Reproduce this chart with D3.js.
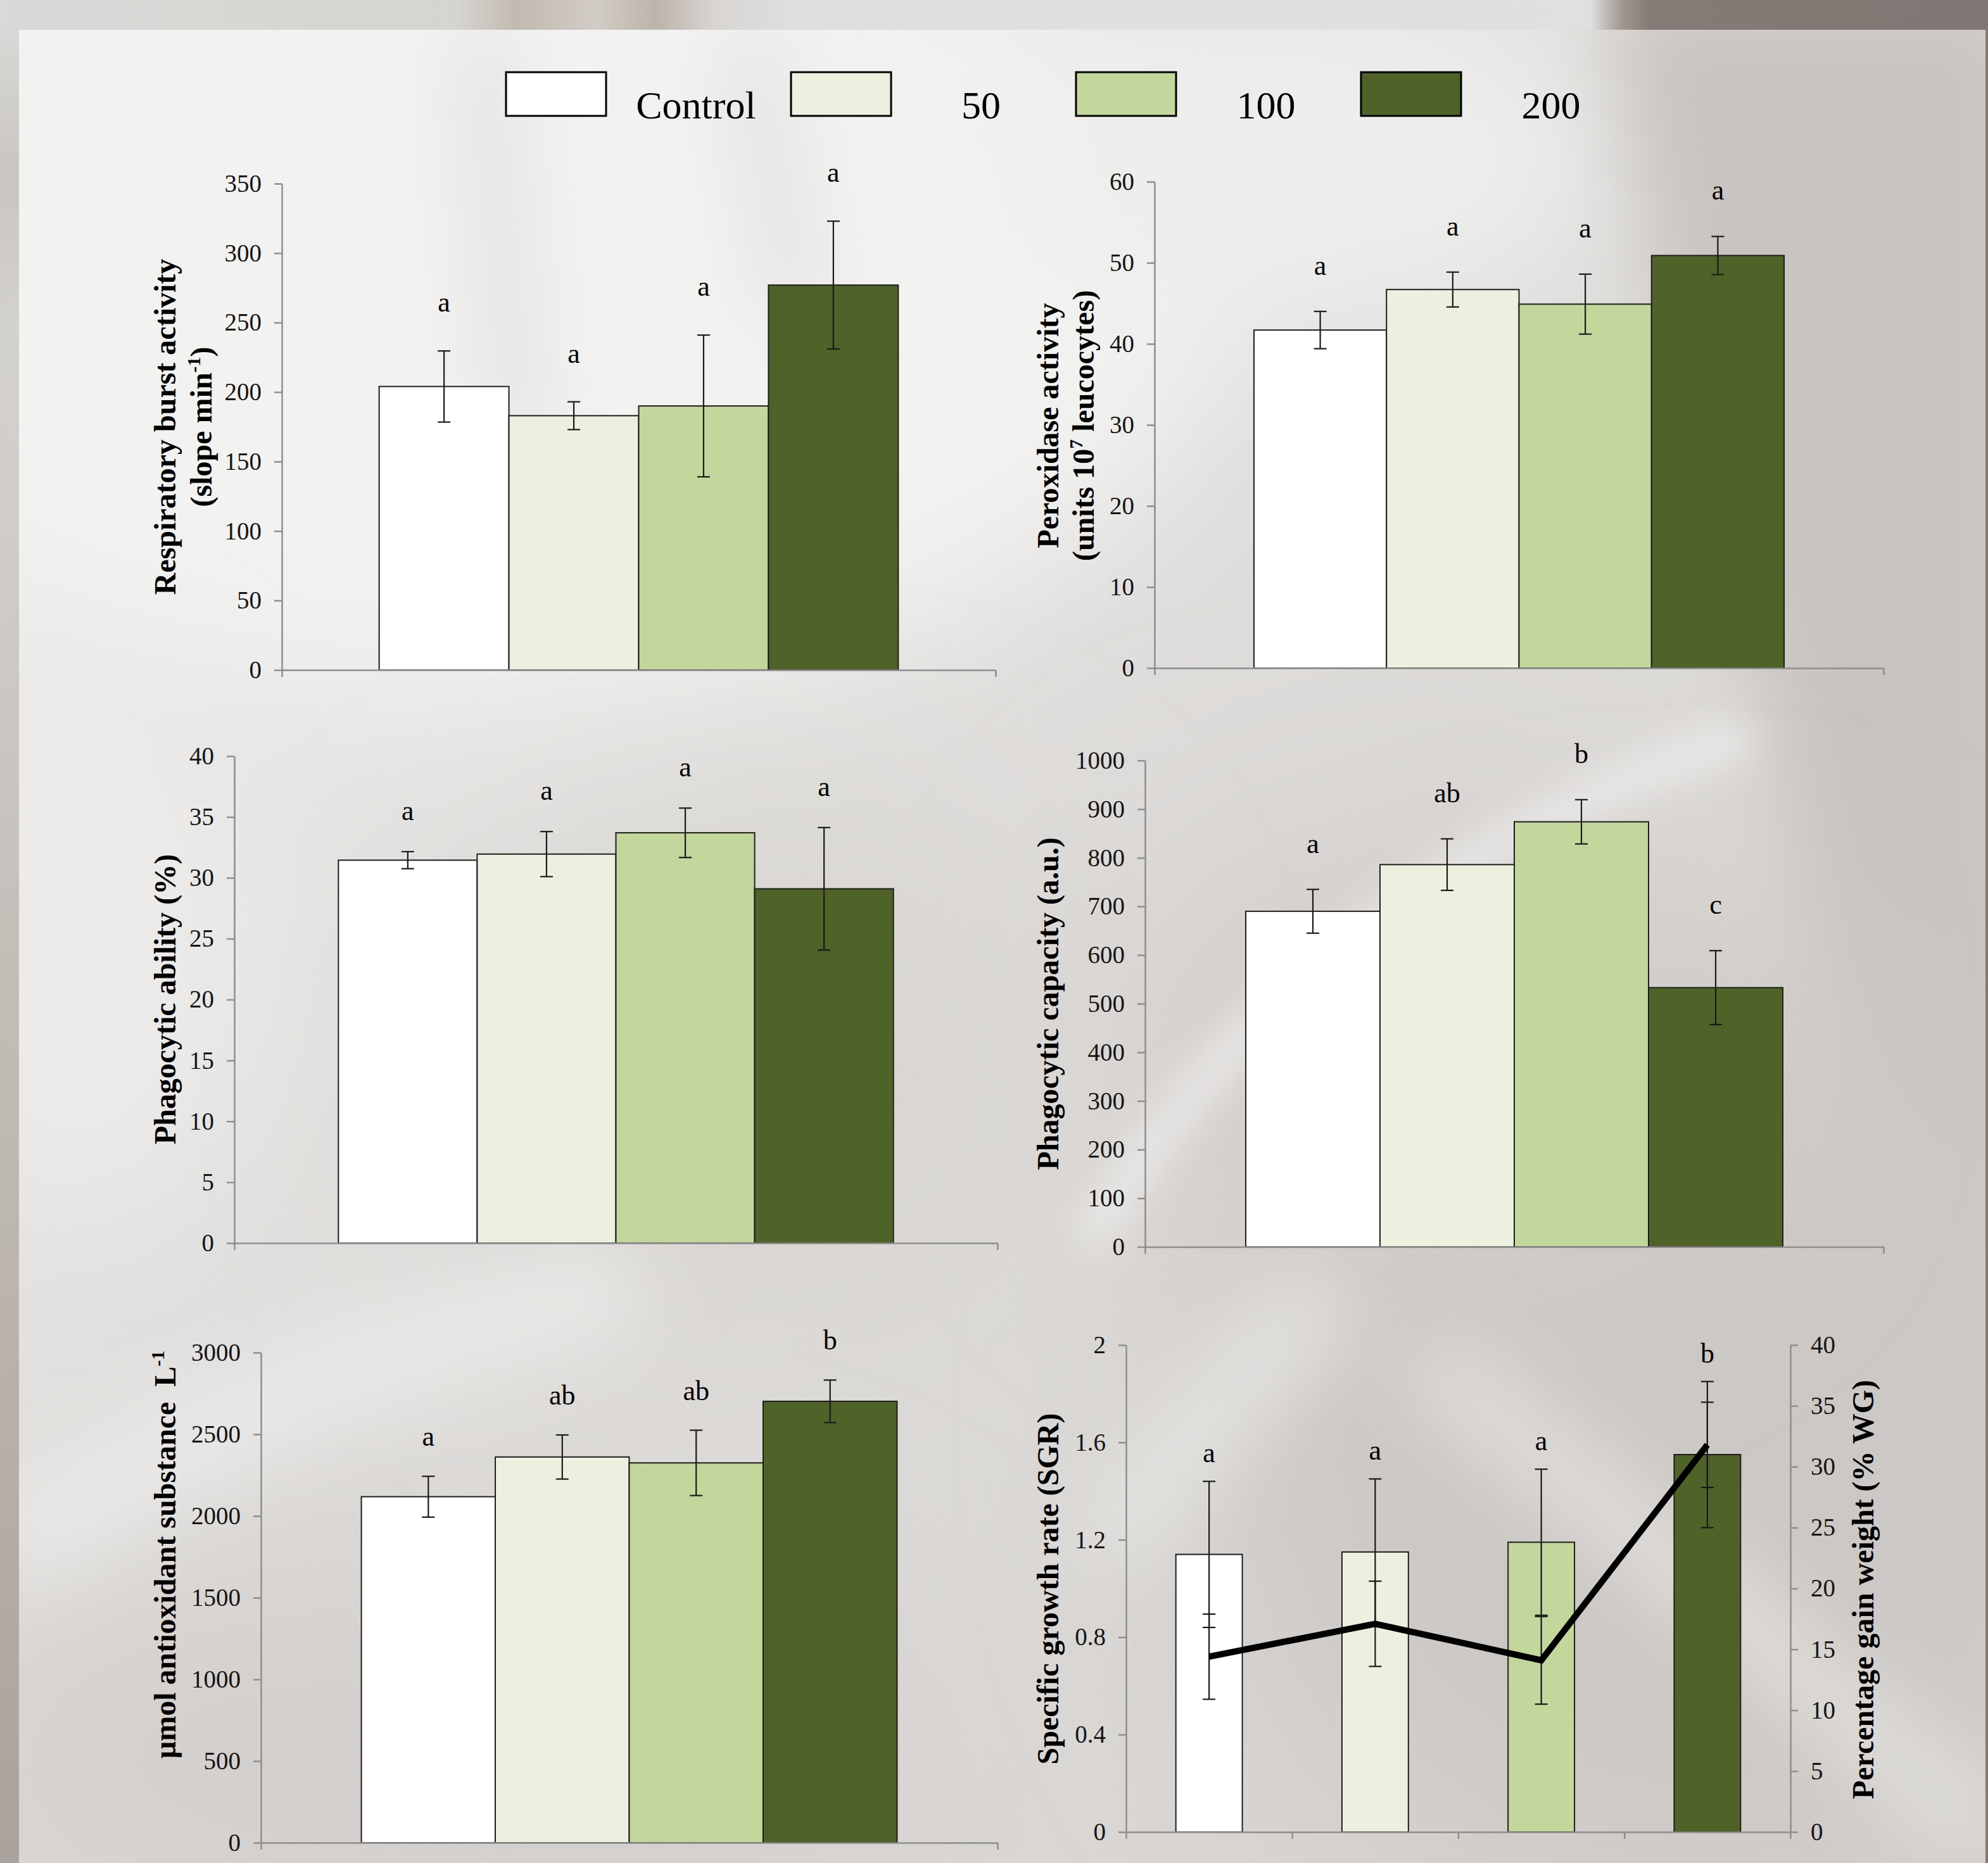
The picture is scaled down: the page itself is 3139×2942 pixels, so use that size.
<!DOCTYPE html>
<html>
<head>
<meta charset="utf-8">
<script src="https://cdn.jsdelivr.net/npm/d3@7"></script>
<style>
  html, body { margin: 0; padding: 0; background: #d9d9d7; }
  svg { display: block; }
  text { font-family: "Liberation Serif", "Times New Roman", Times, serif; }
</style>
</head>
<body>
<svg id="fig"></svg>
<script>
// ---- data ----------------------------------------------------------------
const groups = ["Control", "50", "100", "200"];
const groupColors = ["#ffffff", "#ebf1de", "#c3d69b", "#4f6228"];

// Respiratory burst activity (slope min-1)
const burstMean = [204, 183, 190, 277];
const burstErr = [25.6, 10, 51, 46];
const burstLetters = ["a", "a", "a", "a"];
const burstTicks = [0, 50, 100, 150, 200, 250, 300, 350];

// Peroxidase activity (units 10^7 leucocytes)
const peroxMean = [41.7, 46.7, 44.9, 50.9];
const peroxErr = [2.3, 2.15, 3.7, 2.35];
const peroxLetters = ["a", "a", "a", "a"];
const peroxTicks = [0, 10, 20, 30, 40, 50, 60];

// Phagocytic ability (%)
const abilityMean = [31.45, 31.95, 33.7, 29.1];
const abilityErr = [0.7, 1.85, 2.03, 5.03];
const abilityLetters = ["a", "a", "a", "a"];
const abilityTicks = [0, 5, 10, 15, 20, 25, 30, 35, 40];

// Phagocytic capacity (a.u.)
const capacityMean = [690, 786, 874, 533];
const capacityErr = [45, 53, 45.5, 76];
const capacityLetters = ["a", "ab", "b", "c"];
const capacityTicks = [0, 100, 200, 300, 400, 500, 600, 700, 800, 900, 1000];

// Total antioxidant substance (umol L-1)
const antioxMean = [2118, 2361, 2325, 2702];
const antioxErr = [125, 135, 200, 130];
const antioxLetters = ["a", "ab", "ab", "b"];
const antioxTicks = [0, 500, 1000, 1500, 2000, 2500, 3000];

// Growth: specific growth rate (bars) and percentage weight gain (line)
const sgrMean = [1.14, 1.15, 1.19, 1.55];
const sgrErr = [0.30, 0.30, 0.30, 0.30];
const sgrLetters = ["a", "a", "a", "b"];
const sgrTicks = [0, 0.4, 0.8, 1.2, 1.6, 2];
const wgMean = [14.4, 17.1, 14.1, 31.8];
const wgErr = [3.5, 3.5, 3.6, 3.5];
const wgTicks = [0, 5, 10, 15, 20, 25, 30, 35, 40];

// ---- page ----------------------------------------------------------------
const W = 3139, H = 2942;
const svg = d3.select("#fig").attr("width", W).attr("height", H);
const defs = svg.append("defs");

const AXIS = "#8e8e8e";
const SERIF = '"Liberation Serif", "Times New Roman", Times, serif';

// soft blur filters for the fabric backdrop
[30, 60, 110, 170].forEach(s => {
  defs.append("filter").attr("id", "blur" + s)
    .attr("x", "-50%").attr("y", "-50%").attr("width", "200%").attr("height", "200%")
    .append("feGaussianBlur").attr("stdDeviation", s);
});

function linGrad(id, x1, y1, x2, y2, stops) {
  const g = defs.append("linearGradient").attr("id", id)
    .attr("x1", x1).attr("y1", y1).attr("x2", x2).attr("y2", y2);
  stops.forEach(([o, c]) => g.append("stop").attr("offset", o).attr("stop-color", c));
}

// ---- backdrop --------------------------------------------------------------
const back = svg.append("g");
linGrad("topStrip", 0, 0, 1, 0, [
  [0, "#d9d9d7"], [0.23, "#d6d4d1"], [0.26, "#c2bab1"], [0.30, "#d2ccc6"],
  [0.33, "#bdb4aa"], [0.36, "#d8d5d2"], [0.40, "#dfdfdf"], [0.80, "#e0e0df"],
  [0.815, "#a39a94"], [0.83, "#857b76"], [1, "#807673"]
]);
linGrad("leftStrip", 0, 0, 0, 1, [
  [0, "#d8d8d6"], [0.08, "#c9c5c1"], [0.16, "#d3d1ce"], [0.3, "#cfcbc8"],
  [0.5, "#c4beb9"], [0.75, "#b8b1ab"], [1, "#aaa29c"]
]);
back.append("rect").attr("width", W).attr("height", H).attr("fill", "#cfcbc8");
back.append("rect").attr("width", W).attr("height", 47).attr("fill", "url(#topStrip)");
back.append("rect").attr("y", 47).attr("width", 30).attr("height", H - 47).attr("fill", "url(#leftStrip)");
back.append("rect").attr("x", 3135).attr("y", 47).attr("width", 4).attr("height", H - 47).attr("fill", "#857b76");

// light sheet carrying the charts
const sheet = { x: 30, y: 47, w: 3105, h: H - 47 };
defs.append("clipPath").attr("id", "sheetClip")
  .append("rect").attr("x", sheet.x).attr("y", sheet.y).attr("width", sheet.w).attr("height", sheet.h);
linGrad("sheetBase", 0, 0, 1, 1, [
  [0, "#f0f0ef"], [0.45, "#dfdddb"], [1, "#d4d1ce"]
]);
const sh = back.append("g").attr("clip-path", "url(#sheetClip)");
sh.append("rect").attr("x", sheet.x).attr("y", sheet.y).attr("width", sheet.w).attr("height", sheet.h)
  .attr("fill", "url(#sheetBase)");
// light upper-left area
sh.append("ellipse").attr("cx", 800).attr("cy", 450).attr("rx", 1150).attr("ry", 650)
  .attr("fill", "#f2f2f1").attr("filter", "url(#blur110)");
sh.append("ellipse").attr("cx", 2050).attr("cy", 250).attr("rx", 480).attr("ry", 260)
  .attr("fill", "#eeeeed").attr("filter", "url(#blur110)");
// darker right-hand fold
sh.append("path").attr("d", "M2540,0 L3200,0 L3200,2100 L2900,1700 L2780,1100 L2640,600 Z")
  .attr("fill", "#c8c4c1").attr("filter", "url(#blur60)");
sh.append("ellipse").attr("cx", 2650).attr("cy", 2250).attr("rx", 750).attr("ry", 750)
  .attr("fill", "#ccc8c5").attr("filter", "url(#blur170)");
sh.append("ellipse").attr("cx", 2250).attr("cy", 1650).attr("rx", 500).attr("ry", 350)
  .attr("fill", "#d2cecb").attr("filter", "url(#blur170)");
// lower-left greys
sh.append("ellipse").attr("cx", 650).attr("cy", 2780).attr("rx", 800).attr("ry", 320)
  .attr("fill", "#d3cfcc").attr("filter", "url(#blur170)");
sh.append("ellipse").attr("cx", 1200).attr("cy", 1700).attr("rx", 500).attr("ry", 400)
  .attr("fill", "#d8d5d2").attr("filter", "url(#blur170)");
// pale highlights across the cloth
sh.append("ellipse").attr("cx", 130).attr("cy", 1500).attr("rx", 260).attr("ry", 420)
  .attr("fill", "#ecebea").attr("filter", "url(#blur110)");
sh.append("path").attr("d", "M0,2450 Q450,2150 1000,2030")
  .attr("fill", "none").attr("stroke", "#e9e8e6").attr("stroke-width", 160).attr("filter", "url(#blur60)");
sh.append("path").attr("d", "M1720,1960 Q2050,1400 2760,1160")
  .attr("fill", "none").attr("stroke", "#efeeed").attr("stroke-width", 45).attr("filter", "url(#blur30)");
sh.append("path").attr("d", "M2250,2150 Q2700,2500 3135,2900")
  .attr("fill", "none").attr("stroke", "#e3e2e0").attr("stroke-width", 90).attr("filter", "url(#blur60)");
sh.append("path").attr("d", "M1750,2450 Q1950,2150 2100,2050")
  .attr("fill", "none").attr("stroke", "#e6e5e3").attr("stroke-width", 110).attr("filter", "url(#blur60)");
sh.append("path").attr("d", "M760,60 L820,700 M1180,60 L1260,500")
  .attr("fill", "none").attr("stroke", "#dcdad7").attr("stroke-width", 60).attr("filter", "url(#blur60)");

// ---- legend --------------------------------------------------------------
const legendX = d3.scalePoint().domain(groups).range([799, 2149]);
const legend = svg.append("g");
groups.forEach((g, i) => {
  const x = legendX(g);
  legend.append("rect").attr("x", x).attr("y", 114).attr("width", 158).attr("height", 69)
    .attr("fill", groupColors[i]).attr("stroke", "#000").attr("stroke-width", 3);
  legend.append("text").attr("x", x + 300).attr("y", 187).attr("text-anchor", "middle")
    .attr("font-size", 62).attr("fill", "#000").text(g);
});

// ---- helpers -------------------------------------------------------------
function styleAxis(g) {
  g.select(".domain").attr("stroke", AXIS).attr("stroke-width", 2.5);
  g.selectAll(".tick line").attr("stroke", AXIS).attr("stroke-width", 2.5);
  g.selectAll(".tick text").attr("font-family", SERIF).attr("font-size", 39).attr("fill", "#151515");
  g.attr("font-family", null).attr("font-size", null);
}

// rotated bold axis title; parts are plain strings or {sup: "..."} superscripts
function axisTitle(parent, x, y, parts, size) {
  const t = parent.append("text")
    .attr("transform", `translate(${x},${y}) rotate(-90)`)
    .attr("text-anchor", "middle").attr("font-weight", "bold")
    .attr("font-size", size).attr("fill", "#000")
    .style("white-space", "pre");
  let raised = false;
  parts.forEach(p => {
    if (typeof p === "string") {
      const s = t.append("tspan").text(p);
      if (raised) { s.attr("dy", 18); raised = false; }
    } else {
      t.append("tspan").attr("dy", -18).attr("font-size", size * 0.62).text(p.sup);
      raised = true;
    }
  });
  return t;
}

function errorBar(g, cx, yScale, mean, err, cap) {
  const top = yScale(mean + err), bot = yScale(mean - err);
  g.append("line").attr("x1", cx).attr("x2", cx).attr("y1", top).attr("y2", bot);
  g.append("line").attr("x1", cx - cap).attr("x2", cx + cap).attr("y1", top).attr("y2", top);
  g.append("line").attr("x1", cx - cap).attr("x2", cx + cap).attr("y1", bot).attr("y2", bot);
}

// ---- clustered bar panels ------------------------------------------------
function barPanel(cfg) {
  const g = svg.append("g");
  const y = d3.scaleLinear().domain([0, cfg.ticks[cfg.ticks.length - 1]]).range([cfg.y0, cfg.y1]);
  const x = d3.scaleBand().domain(groups).range([cfg.x0, cfg.x1]).paddingInner(0).paddingOuter(0.75);

  g.selectAll("rect.bar").data(groups).join("rect").attr("class", "bar")
    .attr("x", d => x(d)).attr("width", x.bandwidth())
    .attr("y", (d, i) => y(cfg.mean[i])).attr("height", (d, i) => cfg.y0 - y(cfg.mean[i]))
    .attr("fill", (d, i) => groupColors[i]).attr("stroke", "#1e1e1e").attr("stroke-width", 2);

  const eb = g.append("g").attr("stroke", "#1a1a1a").attr("stroke-width", 2.2);
  groups.forEach((d, i) => errorBar(eb, x(d) + x.bandwidth() / 2, y, cfg.mean[i], cfg.err[i], 10));

  groups.forEach((d, i) => {
    g.append("text").attr("x", x(d) + x.bandwidth() / 2)
      .attr("y", y(cfg.mean[i] + cfg.err[i]) - cfg.gap + 10)
      .attr("text-anchor", "middle").attr("font-size", 44).attr("fill", "#000")
      .text(cfg.letters[i]);
  });

  const ya = g.append("g").attr("transform", `translate(${cfg.x0},0)`)
    .call(d3.axisLeft(y).tickValues(cfg.ticks).tickSize(12).tickSizeOuter(0).tickPadding(20)
      .tickFormat(d3.format("d")));
  styleAxis(ya);
  const xs = d3.scaleLinear().domain([0, 1]).range([cfg.x0, cfg.x1]);
  const xa = g.append("g").attr("transform", `translate(0,${cfg.y0})`)
    .call(d3.axisBottom(xs).tickValues([0, 1]).tickSize(11).tickSizeOuter(0).tickFormat(""));
  styleAxis(xa);

  cfg.titles.forEach(t => axisTitle(g, t.x, cfg.titleY, t.parts, 48));
}

barPanel({
  x0: 445, x1: 1572, y0: 1058, y1: 290, ticks: burstTicks,
  mean: burstMean, err: burstErr, letters: burstLetters, gap: 72, titleY: 674,
  titles: [
    { x: 277, parts: ["Respiratory burst activity"] },
    { x: 334, parts: ["(slope min", { sup: "-1" }, ")"] }
  ]
});
barPanel({
  x0: 1823, x1: 2974, y0: 1055, y1: 287, ticks: peroxTicks,
  mean: peroxMean, err: peroxErr, letters: peroxLetters, gap: 68, titleY: 672,
  titles: [
    { x: 1671, parts: ["Peroxidase activity"] },
    { x: 1727, parts: ["(units 10", { sup: "7" }, " leucocytes)"] }
  ]
});
barPanel({
  x0: 370, x1: 1575, y0: 1963, y1: 1194, ticks: abilityTicks,
  mean: abilityMean, err: abilityErr, letters: abilityLetters, gap: 60, titleY: 1578,
  titles: [{ x: 277, parts: ["Phagocytic ability (%)"] }]
});
barPanel({
  x0: 1808, x1: 2974, y0: 1969, y1: 1201, ticks: capacityTicks,
  mean: capacityMean, err: capacityErr, letters: capacityLetters, gap: 68, titleY: 1585,
  titles: [{ x: 1671, parts: ["Phagocytic capacity (a.u.)"] }]
});
barPanel({
  x0: 412, x1: 1575, y0: 2910, y1: 2136, ticks: antioxTicks,
  mean: antioxMean, err: antioxErr, letters: antioxLetters, gap: 58, titleY: 2455,
  titles: [{ x: 277, parts: ["\u03bcmol antioxidant substance\u00a0 L", { sup: "-1" }] }]
});

// ---- growth panel: SGR bars with %WG line on a second axis ---------------
(function growthPanel() {
  const x0 = 1778, x1 = 2827, y0 = 2893, y1 = 2124;
  const g = svg.append("g");
  const x = d3.scaleBand().domain(groups).range([x0, x1]).paddingInner(0.6).paddingOuter(0.3);
  const ySgr = d3.scaleLinear().domain([0, 2]).range([y0, y1]);
  const yWg = d3.scaleLinear().domain([0, 40]).range([y0, y1]);
  const cx = d => x(d) + x.bandwidth() / 2;

  g.selectAll("rect.bar").data(groups).join("rect").attr("class", "bar")
    .attr("x", d => x(d)).attr("width", x.bandwidth())
    .attr("y", (d, i) => ySgr(sgrMean[i])).attr("height", (d, i) => y0 - ySgr(sgrMean[i]))
    .attr("fill", (d, i) => groupColors[i]).attr("stroke", "#1e1e1e").attr("stroke-width", 2);

  const eb = g.append("g").attr("stroke", "#1a1a1a").attr("stroke-width", 2.2);
  groups.forEach((d, i) => errorBar(eb, cx(d), ySgr, sgrMean[i], sgrErr[i], 10));
  groups.forEach((d, i) => errorBar(eb, cx(d), yWg, wgMean[i], wgErr[i], 10));

  g.append("path").datum(wgMean)
    .attr("d", d3.line().x((v, i) => cx(groups[i])).y(v => yWg(v)))
    .attr("fill", "none").attr("stroke", "#000").attr("stroke-width", 10)
    .attr("stroke-linejoin", "miter");

  groups.forEach((d, i) => {
    const top = Math.min(ySgr(sgrMean[i] + sgrErr[i]), yWg(wgMean[i] + wgErr[i]));
    g.append("text").attr("x", cx(d)).attr("y", top - 40 + 10)
      .attr("text-anchor", "middle").attr("font-size", 44).attr("fill", "#000")
      .text(sgrLetters[i]);
  });

  const la = g.append("g").attr("transform", `translate(${x0},0)`)
    .call(d3.axisLeft(ySgr).tickValues(sgrTicks).tickSize(12).tickSizeOuter(0).tickPadding(20)
      .tickFormat(d3.format("~g")));
  styleAxis(la);
  const ra = g.append("g").attr("transform", `translate(${x1},0)`)
    .call(d3.axisRight(yWg).tickValues(wgTicks).tickSize(12).tickSizeOuter(0).tickPadding(20)
      .tickFormat(d3.format("d")));
  styleAxis(ra);
  const xs = d3.scaleLinear().domain([0, groups.length]).range([x0, x1]);
  const xa = g.append("g").attr("transform", `translate(0,${y0})`)
    .call(d3.axisBottom(xs).tickValues(d3.range(groups.length + 1)).tickSize(11).tickSizeOuter(0).tickFormat(""));
  styleAxis(xa);

  axisTitle(g, 1671, 2509, ["Specific growth rate (SGR)"], 48);
  axisTitle(g, 2958, 2510, ["Percentage gain weight (% WG)"], 48);
})();
</script>
</body>
</html>
